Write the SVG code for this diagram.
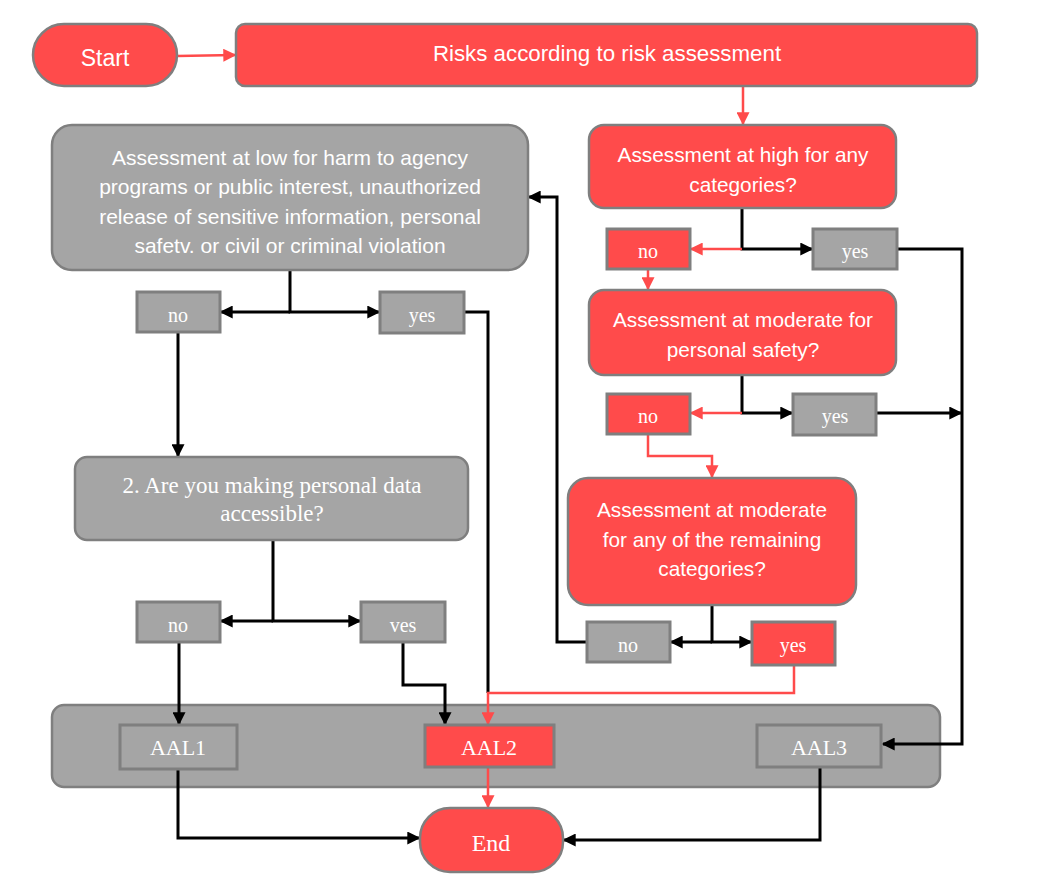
<svg xmlns="http://www.w3.org/2000/svg" width="1040" height="891" viewBox="0 0 1040 891">
<style>
.red{fill:#FF4B4B;stroke:#7F7F7F;stroke-width:2.5}
.gray{fill:#A5A5A5;stroke:#7F7F7F;stroke-width:2.5}
.redb{fill:#FF4B4B;stroke:#7F7F7F;stroke-width:3}
.grayb{fill:#A5A5A5;stroke:#7F7F7F;stroke-width:3}
.sans{font-family:"Liberation Sans",Arial,sans-serif;fill:#fff;text-anchor:middle}
.serif{font-family:"Liberation Serif","Times New Roman",serif;fill:#fff;text-anchor:middle}
.bk{fill:none;stroke:#000;stroke-width:3}
.rd{fill:none;stroke:#FF4B4B;stroke-width:2.5}
</style>
<defs>
<marker id="ab" viewBox="0 0 10 10" refX="9" refY="5" markerWidth="13" markerHeight="13" markerUnits="userSpaceOnUse" orient="auto"><path d="M0,0 L10,5 L0,10 z" fill="#000"/></marker>
<marker id="ar" viewBox="0 0 10 10" refX="9" refY="5" markerWidth="13" markerHeight="13" markerUnits="userSpaceOnUse" orient="auto"><path d="M0,0 L10,5 L0,10 z" fill="#FF4B4B"/></marker>
</defs>

<g id="aal"><rect class="gray" x="52" y="705" width="888" height="82" rx="12"/></g>

<g id="connectors">
<path class="rd" d="M177,56 L235,55" marker-end="url(#ar)"/>
<path class="rd" d="M743,86 L743,124" marker-end="url(#ar)"/>
<path class="bk" d="M742,208 L742,249 L812,249" marker-end="url(#ab)"/>
<path class="rd" d="M742,249 L691,249" marker-end="url(#ar)"/>
<path class="bk" d="M897,249 L962,249 L962,744 L883,744" marker-end="url(#ab)"/>
<path class="rd" d="M648,269 L648,289" marker-end="url(#ar)"/>
<path class="bk" d="M742,375 L742,413 L792,413" marker-end="url(#ab)"/>
<path class="rd" d="M742,413 L691,413" marker-end="url(#ar)"/>
<path class="bk" d="M876,413 L961,413" marker-end="url(#ab)"/>
<path class="rd" d="M648,434 L648,456 L712,456 L712,477" marker-end="url(#ar)"/>
<path class="bk" d="M712,605 L712,642 L751,642" marker-end="url(#ab)"/>
<path class="bk" d="M712,642 L671,642" marker-end="url(#ab)"/>
<path class="bk" d="M587,642 L557,642 L557,197 L529,197" marker-end="url(#ab)"/>
<path class="bk" d="M290,270 L290,312 L379,312" marker-end="url(#ab)"/>
<path class="bk" d="M290,312 L221,312" marker-end="url(#ab)"/>
<path class="bk" d="M464,312 L488,312 L488,693"/>
<path class="rd" d="M794,665 L794,693 L488,693 L488,724" marker-end="url(#ar)"/>
<path class="bk" d="M178,332 L178,456" marker-end="url(#ab)"/>
<path class="bk" d="M273,540 L273,621 L360,621" marker-end="url(#ab)"/>
<path class="bk" d="M273,621 L221,621" marker-end="url(#ab)"/>
<path class="bk" d="M179,642 L179,724" marker-end="url(#ab)"/>
<path class="bk" d="M403,642 L403,685 L445,685 L445,724" marker-end="url(#ab)"/>
<path class="bk" d="M178,769 L178,838 L419,838" marker-end="url(#ab)"/>
<path class="rd" d="M488,767 L488,807" marker-end="url(#ar)"/>
<path class="bk" d="M820,767 L820,840 L564,840" marker-end="url(#ab)"/>
</g>

<g id="start"><rect class="red" x="33" y="24" width="144" height="62" rx="31"/><text class="sans" x="105" y="66" font-size="23">Start</text></g>
<g id="risks"><rect class="red" x="236" y="24" width="741" height="62" rx="9"/><text class="sans" x="607" y="61" font-size="22.3">Risks according to risk assessment</text></g>

<g id="low"><rect class="gray" x="52" y="125" width="476" height="145" rx="20"/>
<text class="sans" font-size="21"><tspan x="290" y="165">Assessment at low for harm to agency</tspan><tspan x="290" y="194">programs or public interest, unauthorized</tspan><tspan x="290" y="224">release of sensitive information, personal</tspan><tspan x="290" y="253">safetv. or civil or criminal violation</tspan></text></g>

<g id="high"><rect class="red" x="589" y="125" width="307" height="83" rx="15"/>
<text class="sans" font-size="20.8"><tspan x="743" y="162">Assessment at high for any</tspan><tspan x="743" y="192">categories?</tspan></text></g>
<g id="no1"><rect class="redb" x="607" y="229" width="83" height="40"/><text class="serif" x="648" y="258" font-size="20">no</text></g>
<g id="yes1"><rect class="grayb" x="813" y="229" width="84" height="40"/><text class="serif" x="855" y="258" font-size="20">yes</text></g>

<g id="modps"><rect class="red" x="589" y="290" width="307" height="85" rx="15"/>
<text class="sans" font-size="20.8"><tspan x="743" y="327">Assessment at moderate for</tspan><tspan x="743" y="357">personal safety?</tspan></text></g>
<g id="no2"><rect class="redb" x="607" y="394" width="83" height="40"/><text class="serif" x="648" y="423" font-size="20">no</text></g>
<g id="yes2"><rect class="grayb" x="793" y="394" width="83" height="41"/><text class="serif" x="835" y="423" font-size="20">yes</text></g>

<g id="modrem"><rect class="red" x="568" y="478" width="288" height="127" rx="20"/>
<text class="sans" font-size="20.8"><tspan x="712" y="517">Assessment at moderate</tspan><tspan x="712" y="547">for any of the remaining</tspan><tspan x="712" y="576">categories?</tspan></text></g>
<g id="no3"><rect class="grayb" x="587" y="622" width="83" height="40"/><text class="serif" x="628" y="652" font-size="20">no</text></g>
<g id="yes3"><rect class="redb" x="752" y="622" width="83" height="43"/><text class="serif" x="793" y="652" font-size="20">yes</text></g>

<g id="nol"><rect class="grayb" x="137" y="292" width="83" height="40"/><text class="serif" x="178" y="322" font-size="20">no</text></g>
<g id="yesl"><rect class="grayb" x="380" y="292" width="84" height="41"/><text class="serif" x="422" y="322" font-size="20">yes</text></g>

<g id="q2"><rect class="gray" x="75" y="457" width="393" height="83" rx="12"/>
<text class="serif" font-size="23"><tspan x="272" y="493">2. Are you making personal data</tspan><tspan x="272" y="521">accessible?</tspan></text></g>
<g id="noq2"><rect class="grayb" x="137" y="602" width="83" height="40"/><text class="serif" x="178" y="632" font-size="20">no</text></g>
<g id="vesq2"><rect class="grayb" x="361" y="602" width="84" height="40"/><text class="serif" x="403" y="632" font-size="20">ves</text></g>

<g id="aal1"><rect class="grayb" x="120" y="725" width="117" height="44"/><text class="serif" x="178" y="755" font-size="22">AAL1</text></g>
<g id="aal2"><rect class="redb" x="425" y="725" width="129" height="42"/><text class="serif" x="489" y="755" font-size="22">AAL2</text></g>
<g id="aal3"><rect class="grayb" x="757" y="725" width="124" height="42"/><text class="serif" x="819" y="755" font-size="22">AAL3</text></g>

<g id="end"><rect class="red" x="420" y="808" width="143" height="64" rx="30"/><text class="serif" x="491" y="851" font-size="24">End</text></g>
</svg>
